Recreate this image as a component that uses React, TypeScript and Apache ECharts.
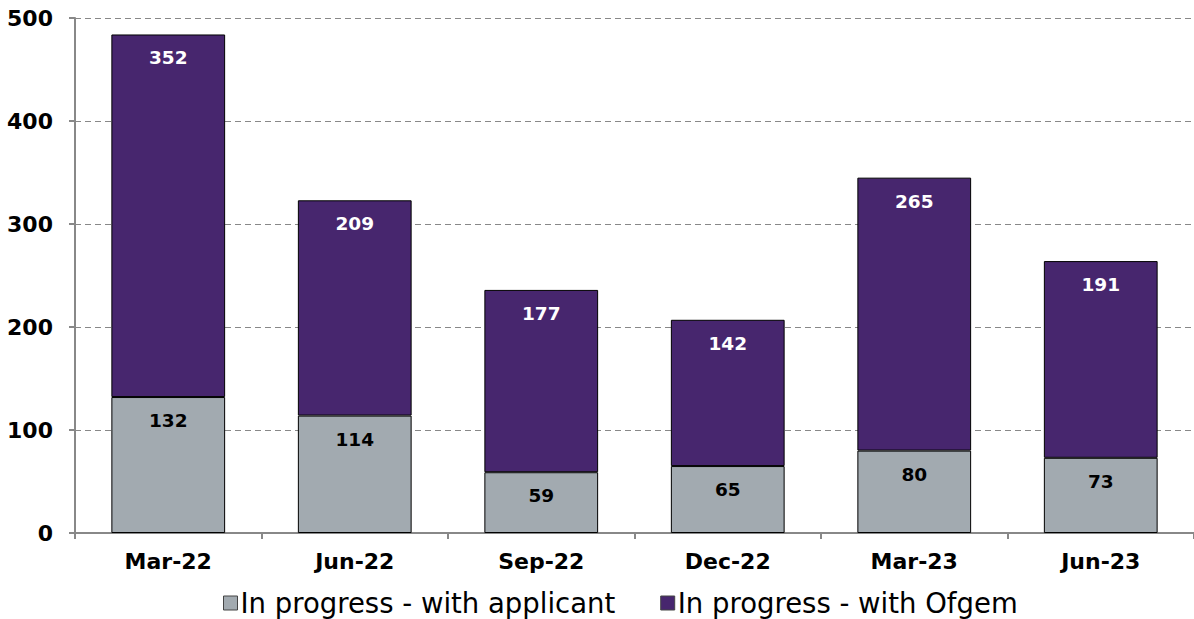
import React, { useEffect, useRef } from "react";
import * as echarts from "echarts";

const categories = ["Mar-22", "Jun-22", "Sep-22", "Dec-22", "Mar-23", "Jun-23"];
const withApplicant = [132, 114, 59, 65, 80, 73];
const withOfgem = [352, 209, 177, 142, 265, 191];
const yTicks = { min: 0, max: 500, interval: 100 };

const FONT = "'DejaVu Sans', Verdana, sans-serif";

export default function App() {
  const ref = useRef<HTMLDivElement>(null);
  useEffect(() => {
    if (!ref.current) return;
    const chart = echarts.init(ref.current, undefined, { renderer: "svg" });
    chart.setOption({
      animation: false,
      textStyle: { fontFamily: FONT },
      grid: { left: 75, right: 0, top: 18, bottom: 86, containLabel: false },
      legend: {
        left: 218,
        top: 584,
        itemWidth: 14,
        itemHeight: 14,
        itemGap: 45,
        icon: "rect",
        textStyle: { fontFamily: FONT, fontSize: 27.5, color: "#000", padding: [0, 0, 0, -2] },
        data: [
          { name: "In progress - with applicant", itemStyle: { borderColor: "#444", borderWidth: 1 } },
          { name: "In progress - with Ofgem", itemStyle: { borderColor: "#444", borderWidth: 1 } },
        ],
      },
      xAxis: {
        type: "category",
        data: categories,
        axisLine: { lineStyle: { color: "#888", width: 2 } },
        axisTick: { show: true, length: 6, lineStyle: { color: "#888", width: 2 } },
        axisLabel: { fontFamily: FONT, fontSize: 22, fontWeight: "bold", color: "#000", margin: 17 },
      },
      yAxis: {
        type: "value",
        min: yTicks.min,
        max: yTicks.max,
        interval: yTicks.interval,
        axisLine: { show: true, lineStyle: { color: "#888", width: 2 } },
        axisTick: { show: true, length: 6, lineStyle: { color: "#888", width: 2 } },
        axisLabel: { fontFamily: FONT, fontSize: 22, fontWeight: "bold", color: "#000", margin: 22 },
        splitLine: { show: true, lineStyle: { color: "#888", type: [6, 4], width: 1 } },
      },
      series: [
        {
          name: "In progress - with applicant",
          type: "bar",
          stack: "total",
          data: withApplicant,
          barWidth: "61%",
          itemStyle: { color: "#A2AAB0", borderColor: "#000", borderWidth: 1 },
          label: {
            show: true,
            position: "insideTop",
            distance: 14,
            fontFamily: FONT,
            fontSize: 18.5,
            fontWeight: "bold",
            color: "#000",
          },
        },
        {
          name: "In progress - with Ofgem",
          type: "bar",
          stack: "total",
          data: withOfgem,
          barWidth: "61%",
          itemStyle: { color: "#47266E", borderColor: "#000", borderWidth: 1 },
          label: {
            show: true,
            position: "insideTop",
            distance: 14,
            fontFamily: FONT,
            fontSize: 18.5,
            fontWeight: "bold",
            color: "#fff",
          },
        },
      ],
    });
    return () => chart.dispose();
  }, []);
  return (
    <div
      ref={ref}
      style={{ position: "fixed", left: 0, top: 0, width: 1194, height: 619, background: "#fff" }}
    />
  );
}
